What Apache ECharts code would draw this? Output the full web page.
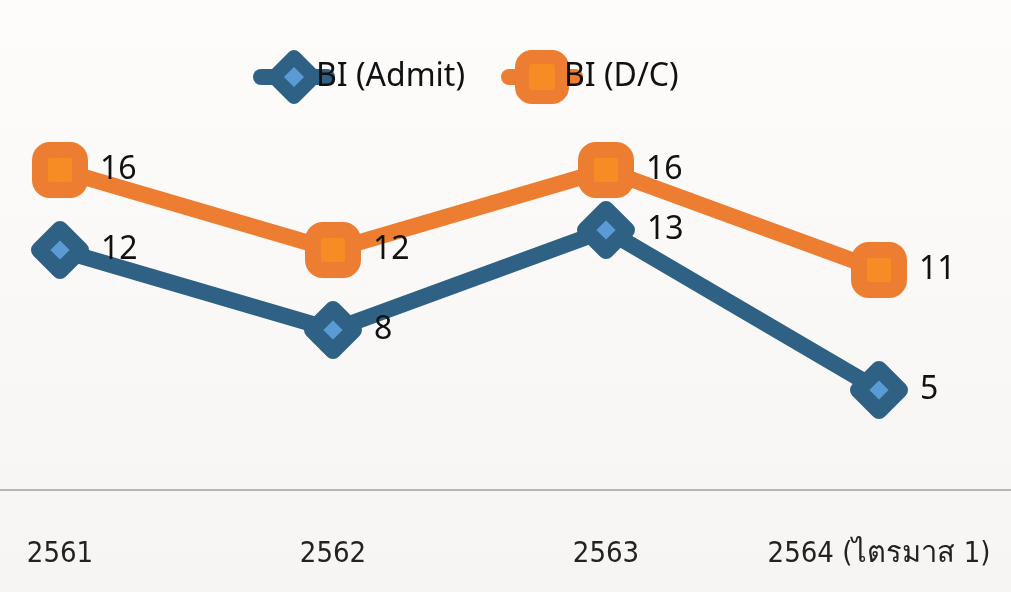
<!DOCTYPE html>
<html>
<head>
<meta charset="utf-8">
<script src="https://cdn.jsdelivr.net/npm/echarts@6/dist/echarts.min.js"></script>
<style>
html, body { margin: 0; padding: 0; }
#container { width: 1011px; height: 592px; }
</style>
</head>
<body>
<div id="container"></div>
<script>
// ข้อมูล
var years = ['2561', '2562', '2563', '2564 (ไตรมาส 1)'];
var admit = [12, 8, 13, 5];
var dc = [16, 12, 16, 11];

var dom = document.getElementById("container");
var myChart = echarts.init(dom);
var option = {
    backgroundColor: {
        type: 'linear', x: 0, y: 0, x2: 0, y2: 1,
        colorStops: [
            { offset: 0, color: '#fdfcfb' },
            { offset: 1, color: '#f6f5f4' }
        ]
    },
    textStyle: { fontFamily: 'Noto Sans' },
    // เส้นแกนยาวเต็มความกว้าง
    graphic: [{
        type: 'line',
        shape: { x1: 0, y1: 490, x2: 1011, y2: 490 },
        style: { stroke: '#b5b5b5', lineWidth: 2 },
        z: 1
    }],
    legend: {
        top: 45,
        left: 248,
        itemWidth: 66,
        itemHeight: 50,
        itemGap: 36,
        lineStyle: { width: 16, cap: 'round' },
        itemStyle: { borderWidth: 14 },
        textStyle: { fontSize: 32, color: '#111', fontFamily: 'Noto Sans', padding: [0, 0, 0, -16] },
        data: ['BI (Admit)', 'BI (D/C)']
    },
    grid: { left: 60, right: 132, top: 90, bottom: 102 },
    xAxis: {
        type: 'category',
        data: years,
        boundaryGap: false,
        axisLine: { show: false },
        axisTick: { show: false },
        axisLabel: {
            interval: 0,
            hideOverlap: false,
            margin: 50,
            fontSize: 29,
            color: '#222',
            fontFamily: 'DejaVu Sans Condensed'
        }
    },
    yAxis: {
        type: 'value',
        min: 0,
        max: 20,
        show: false,
        splitLine: { show: false }
    },
    series: [
        {
            name: 'BI (Admit)',
            type: 'line',
            data: admit,
            symbol: 'diamond',
            symbolSize: 42,
            lineStyle: { color: '#2e6184', width: 16, cap: 'round', join: 'round' },
            itemStyle: { color: '#5b9bd5', borderColor: '#2e6184', borderWidth: 16, borderJoin: 'round' },
            label: { show: true, position: 'right', distance: 12, fontSize: 32, color: '#111' }
        },
        {
            name: 'BI (D/C)',
            type: 'line',
            data: dc,
            symbol: 'roundRect',
            symbolSize: 40,
            lineStyle: { color: '#ed7d31', width: 16, cap: 'round', join: 'round' },
            itemStyle: { color: '#f78c25', borderColor: '#ed7d31', borderWidth: 16, borderJoin: 'round' },
            label: { show: true, position: 'right', distance: 12, fontSize: 32, color: '#111' }
        }
    ]
};

if (option && typeof option === 'object') {
    myChart.setOption(option);
}
</script>
</body>
</html>
